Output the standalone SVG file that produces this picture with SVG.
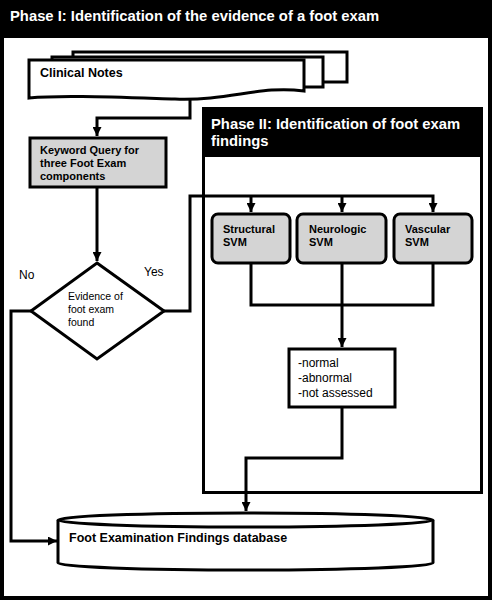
<svg xmlns="http://www.w3.org/2000/svg" width="492" height="600" viewBox="0 0 492 600">
<defs>
<style>
.ln{fill:none;stroke:#000;stroke-width:3}
.bx{stroke:#000;stroke-width:3}
.g{fill:#d4d4d4}
.w{fill:#fff}
.hd{font-family:"Liberation Sans",Arial,sans-serif;font-weight:bold;font-size:14.8px;fill:#fff}
.b{font-family:"Liberation Sans",Arial,sans-serif;font-weight:bold;font-size:11px;fill:#000}
.n{font-family:"Liberation Sans",Arial,sans-serif;font-size:12px;fill:#000}
.s{font-family:"Liberation Sans",Arial,sans-serif;font-size:10.5px;fill:#000}
.bl{font-family:"Liberation Sans",Arial,sans-serif;font-weight:bold;font-size:12.5px;fill:#000}
</style>
<marker id="ah" viewBox="0 0 10 10" refX="10" refY="5" markerWidth="3" markerHeight="3" orient="auto" markerUnits="strokeWidth">
<path d="M0,0 L10,5 L0,10 z" fill="#000"/>
</marker>
</defs>
<rect x="0" y="0" width="492" height="600" fill="#000"/>
<rect x="4" y="38" width="484" height="558" fill="#fff"/>
<text class="hd" x="10" y="21">Phase I: Identification of the evidence of a foot exam</text>

<g id="phase2">
<rect x="203.5" y="108.5" width="278" height="384" fill="#fff" stroke="#000" stroke-width="3"/>
<rect x="202" y="107" width="281" height="50" fill="#000"/>
<text class="hd" x="211" y="129">Phase II: Identification of foot exam</text>
<text class="hd" x="211" y="146">findings</text>
</g>

<g id="clinical-notes">
<rect class="bx w" x="73" y="52" width="274" height="30"/>
<rect class="bx w" x="52" y="57" width="271" height="30"/>
<path class="bx w" d="M29,60 H304 V91 C260,85 230,101 175,99 C110,97 60,95 29,98 Z"/>
<text class="bl" x="40" y="77">Clinical Notes</text>
</g>

<g id="keyword">
<rect class="bx g" x="30" y="138" width="136" height="49"/>
<text class="b" x="40" y="154">Keyword Query for</text>
<text class="b" x="40" y="167">three Foot Exam</text>
<text class="b" x="40" y="180">components</text>
</g>

<g id="decision">
<path class="bx w" d="M97,263 L164,311 L97,359 L31,311 Z"/>
<text class="s" x="68" y="300">Evidence of</text>
<text class="s" x="68" y="313">foot exam</text>
<text class="s" x="68" y="326">found</text>
</g>

<g id="structural">
<rect class="bx g" x="212" y="214" width="78" height="49" rx="6"/>
<text class="b" x="223" y="233">Structural</text>
<text class="b" x="223" y="246">SVM</text>
</g>
<g id="neurologic">
<rect class="bx g" x="297" y="214" width="89" height="49" rx="6"/>
<text class="b" x="309" y="233">Neurologic</text>
<text class="b" x="309" y="246">SVM</text>
</g>
<g id="vascular">
<rect class="bx g" x="394" y="214" width="78" height="49" rx="6"/>
<text class="b" x="405" y="233">Vascular</text>
<text class="b" x="405" y="246">SVM</text>
</g>

<g id="results">
<rect class="bx w" x="289" y="349" width="106" height="58"/>
<text class="n" x="298" y="367">-normal</text>
<text class="n" x="298" y="382">-abnormal</text>
<text class="n" x="298" y="397">-not assessed</text>
</g>

<g id="database">
<path class="bx w" d="M58,520 V563 A187.5,7 0 0 0 433,563 V520"/>
<ellipse class="bx w" cx="245.5" cy="520" rx="187.5" ry="7"/>
<text class="bl" x="69" y="542">Foot Examination Findings database</text>
</g>

<g id="connectors">
<path class="ln" d="M190,99 V118 H97 V136" marker-end="url(#ah)"/>
<path class="ln" d="M97,187 V261" marker-end="url(#ah)"/>
<path class="ln" d="M164,311 H190 V196 H433 V212" marker-end="url(#ah)"/>
<path class="ln" d="M251,196 V212" marker-end="url(#ah)"/>
<path class="ln" d="M342,196 V212" marker-end="url(#ah)"/>
<path class="ln" d="M251,263 V305 H433 V263"/>
<path class="ln" d="M342,263 V347" marker-end="url(#ah)"/>
<path class="ln" d="M342,407 V458 H246 V511" marker-end="url(#ah)"/>
<path class="ln" d="M31,311 H11 V541 H57" marker-end="url(#ah)"/>
<text class="n" x="19" y="279">No</text>
<text class="n" x="144" y="276">Yes</text>
</g>
</svg>
